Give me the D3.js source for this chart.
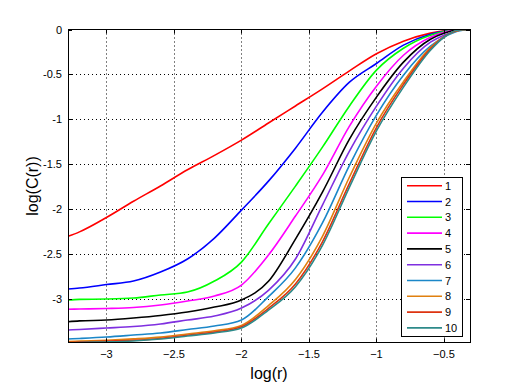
<!DOCTYPE html>
<html><head><meta charset="utf-8">
<script src="https://cdn.jsdelivr.net/npm/d3@7"></script>
<style>body{margin:0;background:#fff}svg{display:block}</style>
</head><body>
<script>
const logR = [-3.285,-3.2,-3.0,-2.8,-2.6,-2.4,-2.2,-2.0,-1.8,-1.6,-1.4,-1.2,-1.0,-0.8,-0.6,-0.5,-0.4,-0.307];
const s1  = [-2.30,-2.25,-2.09,-1.91,-1.74,-1.56,-1.40,-1.23,-1.04,-0.85,-0.66,-0.46,-0.27,-0.13,-0.04,-0.013,-0.002,0];
const s2  = [-2.886,-2.874,-2.836,-2.797,-2.697,-2.552,-2.319,-2.008,-1.686,-1.319,-0.92,-0.586,-0.378,-0.174,-0.052,-0.019,-0.002,0];
const s3  = [-3.008,-3.0,-2.997,-2.986,-2.952,-2.919,-2.797,-2.586,-2.163,-1.741,-1.308,-0.85,-0.452,-0.208,-0.063,-0.024,-0.003,0];
const s4  = [-3.111,-3.108,-3.102,-3.091,-3.063,-3.019,-2.963,-2.841,-2.508,-2.074,-1.619,-1.074,-0.63,-0.286,-0.086,-0.03,-0.004,0];
const s5  = [-3.249,-3.24,-3.23,-3.208,-3.18,-3.141,-3.086,-3.008,-2.80,-2.33,-1.808,-1.219,-0.752,-0.363,-0.108,-0.041,-0.006,0];
const s6  = [-3.341,-3.335,-3.319,-3.302,-3.274,-3.23,-3.186,-3.097,-2.90,-2.552,-1.952,-1.352,-0.852,-0.43,-0.141,-0.063,-0.013,0];
const s7  = [-3.441,-3.435,-3.419,-3.397,-3.374,-3.336,-3.297,-3.23,-2.97,-2.65,-2.15,-1.51,-0.952,-0.508,-0.186,-0.086,-0.019,0];
const s8  = [-3.47,-3.465,-3.455,-3.44,-3.42,-3.385,-3.35,-3.29,-3.07,-2.78,-2.30,-1.64,-1.04,-0.58,-0.20,-0.08,-0.014,0];
const s9  = [-3.48,-3.475,-3.465,-3.455,-3.435,-3.40,-3.365,-3.305,-3.10,-2.83,-2.36,-1.71,-1.09,-0.61,-0.215,-0.083,-0.012,0];
const s10 = [-3.486,-3.48,-3.474,-3.463,-3.441,-3.408,-3.374,-3.319,-3.12,-2.86,-2.40,-1.752,-1.128,-0.641,-0.23,-0.086,-0.008,0];
const seriesNames = ["1","2","3","4","5","6","7","8","9","10"];
const seriesValues = [s1,s2,s3,s4,s5,s6,s7,s8,s9,s10];
const colors = ["#ff0000","#0000ff","#00ff00","#ff00ff","#000000","#7f2fe0","#1b87c8","#e0800f","#dd3310","#2e8a8a"];
const xTicks = [-3,-2.5,-2,-1.5,-1,-0.5];
const yTicks = [0,-0.5,-1,-1.5,-2,-2.5,-3];

const W=520,H=385;
const L=68,R=470,T=29.5,B=342.5;
const svg=d3.select("body").append("svg").attr("width",W).attr("height",H);
const x=d3.scaleLinear().domain([-3.285,-0.307]).range([L,R]);
const y=d3.scaleLinear().domain([-3.48,0]).range([B,T]);
const font="'Liberation Sans', Arial, Helvetica, sans-serif";

svg.append("defs").append("clipPath").attr("id","clip").append("rect")
  .attr("x",L).attr("y",T).attr("width",R-L).attr("height",B-T);

// grid
const g=svg.append("g");
g.selectAll(".gx").data(xTicks).join("line")
  .attr("x1",d=>Math.round(x(d))+0.5).attr("x2",d=>Math.round(x(d))+0.5)
  .attr("y1",T).attr("y2",B).attr("stroke","#000").attr("stroke-width",1).attr("stroke-dasharray","1,3");
g.selectAll(".gy").data(yTicks.filter(d=>d!==0)).join("line")
  .attr("y1",d=>Math.round(y(d))+0.5).attr("y2",d=>Math.round(y(d))+0.5)
  .attr("x1",L).attr("x2",R).attr("stroke","#000").attr("stroke-width",1).attr("stroke-dasharray","1,3");

// curves
const line=d3.line().x(d=>x(d[0])).y(d=>y(d[1])).curve(d3.curveMonotoneX);
const cg=svg.append("g").attr("clip-path","url(#clip)");
seriesValues.forEach((vals,i)=>{
  cg.append("path").datum(logR.map((v,j)=>[v,vals[j]]))
    .attr("d",line).attr("fill","none").attr("stroke",colors[i]).attr("stroke-width",1.6);
});

// axes box
svg.append("rect").attr("x",L+0.5).attr("y",T).attr("width",R-L).attr("height",B-T)
  .attr("fill","none").attr("stroke","#000").attr("stroke-width",1);

// ticks inside
const tl=4;
xTicks.forEach(d=>{
  const px=Math.round(x(d))+0.5;
  svg.append("line").attr("x1",px).attr("x2",px).attr("y1",B).attr("y2",B-tl).attr("stroke","#000");
  svg.append("line").attr("x1",px).attr("x2",px).attr("y1",T).attr("y2",T+tl).attr("stroke","#000");
});
yTicks.forEach(d=>{
  const py=Math.round(y(d))+0.5;
  svg.append("line").attr("y1",py).attr("y2",py).attr("x1",L).attr("x2",L+tl).attr("stroke","#000");
  svg.append("line").attr("y1",py).attr("y2",py).attr("x1",R).attr("x2",R-tl).attr("stroke","#000");
});

// tick labels
svg.selectAll(".xl").data(xTicks).join("text")
  .attr("x",d=>x(d)).attr("y",B+15).attr("text-anchor","middle")
  .attr("font-family",font).attr("font-size",11).text(d=>d3.format("")(d).replace("-","-"));
svg.selectAll(".yl").data(yTicks).join("text")
  .attr("x",L-6).attr("y",d=>y(d)+4).attr("text-anchor","end")
  .attr("font-family",font).attr("font-size",11).text(d=>String(d));

// axis labels
svg.append("text").attr("x",(L+R)/2).attr("y",379).attr("text-anchor","middle")
  .attr("font-family",font).attr("font-size",16).text("log(r)");
svg.append("text").attr("transform",`translate(38,${(T+B)/2}) rotate(-90)`)
  .attr("text-anchor","middle").attr("font-family",font).attr("font-size",16).text("log(C(r))");

// legend
const lg=svg.append("g");
lg.append("rect").attr("x",401.5).attr("y",177.5).attr("width",61).attr("height",159)
  .attr("fill","#fff").attr("stroke","#000");
seriesNames.forEach((n,i)=>{
  const yy=185.7+i*15.8;
  lg.append("line").attr("x1",407).attr("x2",442).attr("y1",yy).attr("y2",yy)
    .attr("stroke",colors[i]).attr("stroke-width",1.6);
  lg.append("text").attr("x",445).attr("y",yy+4).attr("font-family",font).attr("font-size",11).text(n);
});
</script>
</body></html>
